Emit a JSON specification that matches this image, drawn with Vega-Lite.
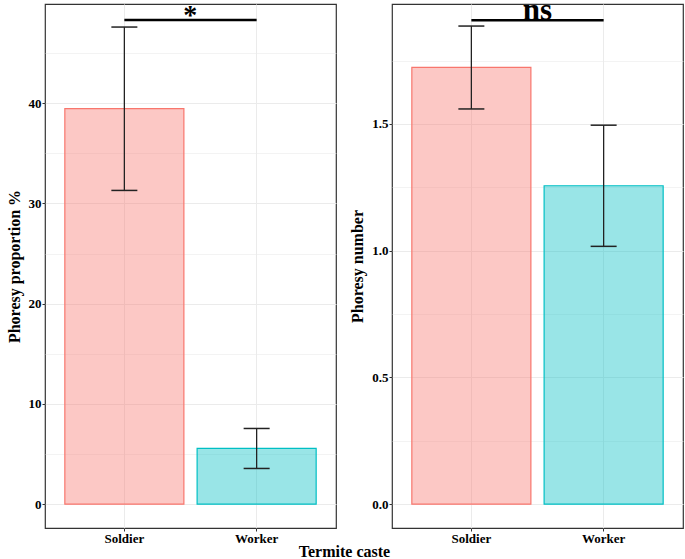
{
  "$schema": "https://vega.github.io/schema/vega-lite/v6.json",
  "padding": {"top": 3, "left": 5, "right": 1, "bottom": 0},
  "background": "white",
  "config": {
    "view": {"stroke": "#333333", "strokeWidth": 1.2},
    "axis": {
      "labelFont": "Liberation Serif",
      "labelFontSize": 13,
      "labelFontWeight": "bold",
      "labelColor": "black",
      "titleFont": "Liberation Serif",
      "titleFontSize": 16,
      "titleFontWeight": "bold",
      "titleColor": "black",
      "domain": false,
      "tickColor": "#333333",
      "tickSize": 3,
      "gridColor": "#EBEBEB",
      "labelPadding": 1
    }
  },
  "title": {
    "text": "Termite caste",
    "orient": "bottom",
    "anchor": "middle",
    "font": "Liberation Serif",
    "fontSize": 16,
    "fontWeight": "bold",
    "color": "black",
    "offset": -2
  },
  "datasets": {
    "prop": [
      {"caste": "Soldier", "mean": 39.47, "lo": 31.3, "hi": 47.6},
      {"caste": "Worker", "mean": 5.56, "lo": 3.56, "hi": 7.55}
    ],
    "num": [
      {"caste": "Soldier", "mean": 1.723, "lo": 1.559, "hi": 1.886},
      {"caste": "Worker", "mean": 1.256, "lo": 1.017, "hi": 1.495}
    ],
    "sigp": [{"from": "Soldier", "to": "Worker", "y": 48.3, "label": "*"}],
    "sign": [{"from": "Soldier", "to": "Worker", "y": 1.909, "label": "ns"}]
  },
  "spacing": 12,
  "hconcat": [
    {
      "width": 291,
      "height": 524,
      "encoding": {
        "x": {
          "field": "caste",
          "type": "nominal",
          "scale": {"domain": ["Soldier", "Worker"], "paddingInner": 0.1, "paddingOuter": 0.15},
          "axis": {"title": null, "labelAngle": 0, "grid": true}
        }
      },
      "layer": [
        {
          "data": {"name": "prop"},
          "mark": {"type": "bar", "fillOpacity": 0.4, "strokeWidth": 1.2},
          "encoding": {
            "y": {
              "field": "mean",
              "type": "quantitative",
              "scale": {"domain": [-2.38, 49.9], "nice": false, "zero": false},
              "axis": {
                "title": "Phoresy proportion %",
                "values": [0, 5, 10, 15, 20, 25, 30, 35, 40, 45],
                "labelExpr": "datum.value % 10 === 0 ? datum.label : ''",
                "tickOpacity": {"condition": {"test": "datum.value % 10 === 0", "value": 1}, "value": 0},
                "gridWidth": {"condition": {"test": "datum.value % 10 === 0", "value": 1}, "value": 0.6},
                "titlePadding": 6
              }
            },
            "fill": {"field": "caste", "type": "nominal", "scale": {"domain": ["Soldier", "Worker"], "range": ["#F8766D", "#00BFC4"]}, "legend": null},
            "stroke": {"field": "caste", "type": "nominal", "scale": {"domain": ["Soldier", "Worker"], "range": ["#F8766D", "#00BFC4"]}, "legend": null}
          }
        },
        {
          "data": {"name": "prop"},
          "mark": {"type": "rule", "color": "#222222", "strokeWidth": 1.3},
          "encoding": {"y": {"field": "lo", "type": "quantitative"}, "y2": {"field": "hi"}}
        },
        {
          "data": {"name": "prop"},
          "mark": {"type": "tick", "color": "#222222", "size": 26, "thickness": 1.5, "opacity": 1},
          "encoding": {"y": {"field": "lo", "type": "quantitative"}}
        },
        {
          "data": {"name": "prop"},
          "mark": {"type": "tick", "color": "#222222", "size": 26, "thickness": 1.5, "opacity": 1},
          "encoding": {"y": {"field": "hi", "type": "quantitative"}}
        },
        {
          "data": {"name": "sigp"},
          "mark": {"type": "rule", "color": "black", "strokeWidth": 2.5},
          "encoding": {
            "x": {"field": "from", "type": "nominal"},
            "x2": {"field": "to"},
            "y": {"field": "y", "type": "quantitative"}
          }
        },
        {
          "data": {"name": "sigp"},
          "mark": {"type": "text", "font": "Liberation Serif", "fontSize": 28, "fontWeight": "bold", "color": "black", "baseline": "alphabetic", "dy": 4, "dx": 66, "clip": true},
          "encoding": {
            "x": {"field": "from", "type": "nominal"},
            "y": {"field": "y", "type": "quantitative"},
            "text": {"field": "label"}
          }
        }
      ]
    },
    {
      "width": 291,
      "height": 524,
      "encoding": {
        "x": {
          "field": "caste",
          "type": "nominal",
          "scale": {"domain": ["Soldier", "Worker"], "paddingInner": 0.1, "paddingOuter": 0.15},
          "axis": {"title": null, "labelAngle": 0, "grid": true}
        }
      },
      "layer": [
        {
          "data": {"name": "num"},
          "mark": {"type": "bar", "fillOpacity": 0.4, "strokeWidth": 1.2},
          "encoding": {
            "y": {
              "field": "mean",
              "type": "quantitative",
              "scale": {"domain": [-0.094, 1.973], "nice": false, "zero": false},
              "axis": {
                "title": "Phoresy number",
                "values": [0, 0.25, 0.5, 0.75, 1, 1.25, 1.5, 1.75],
                "format": ".1f",
                "labelExpr": "round(datum.value * 100) % 50 === 0 ? datum.label : ''",
                "tickOpacity": {"condition": {"test": "round(datum.value * 100) % 50 === 0", "value": 1}, "value": 0},
                "gridWidth": {"condition": {"test": "round(datum.value * 100) % 50 === 0", "value": 1}, "value": 0.6},
                "titlePadding": 6
              }
            },
            "fill": {"field": "caste", "type": "nominal", "scale": {"domain": ["Soldier", "Worker"], "range": ["#F8766D", "#00BFC4"]}, "legend": null},
            "stroke": {"field": "caste", "type": "nominal", "scale": {"domain": ["Soldier", "Worker"], "range": ["#F8766D", "#00BFC4"]}, "legend": null}
          }
        },
        {
          "data": {"name": "num"},
          "mark": {"type": "rule", "color": "#222222", "strokeWidth": 1.3},
          "encoding": {"y": {"field": "lo", "type": "quantitative"}, "y2": {"field": "hi"}}
        },
        {
          "data": {"name": "num"},
          "mark": {"type": "tick", "color": "#222222", "size": 26, "thickness": 1.5, "opacity": 1},
          "encoding": {"y": {"field": "lo", "type": "quantitative"}}
        },
        {
          "data": {"name": "num"},
          "mark": {"type": "tick", "color": "#222222", "size": 26, "thickness": 1.5, "opacity": 1},
          "encoding": {"y": {"field": "hi", "type": "quantitative"}}
        },
        {
          "data": {"name": "sign"},
          "mark": {"type": "rule", "color": "black", "strokeWidth": 2.5},
          "encoding": {
            "x": {"field": "from", "type": "nominal"},
            "x2": {"field": "to"},
            "y": {"field": "y", "type": "quantitative"}
          }
        },
        {
          "data": {"name": "sign"},
          "mark": {"type": "text", "font": "Liberation Serif", "fontSize": 31, "fontWeight": "bold", "color": "black", "baseline": "alphabetic", "dy": 0, "dx": 66, "clip": true},
          "encoding": {
            "x": {"field": "from", "type": "nominal"},
            "y": {"field": "y", "type": "quantitative"},
            "text": {"field": "label"}
          }
        }
      ]
    }
  ]
}
